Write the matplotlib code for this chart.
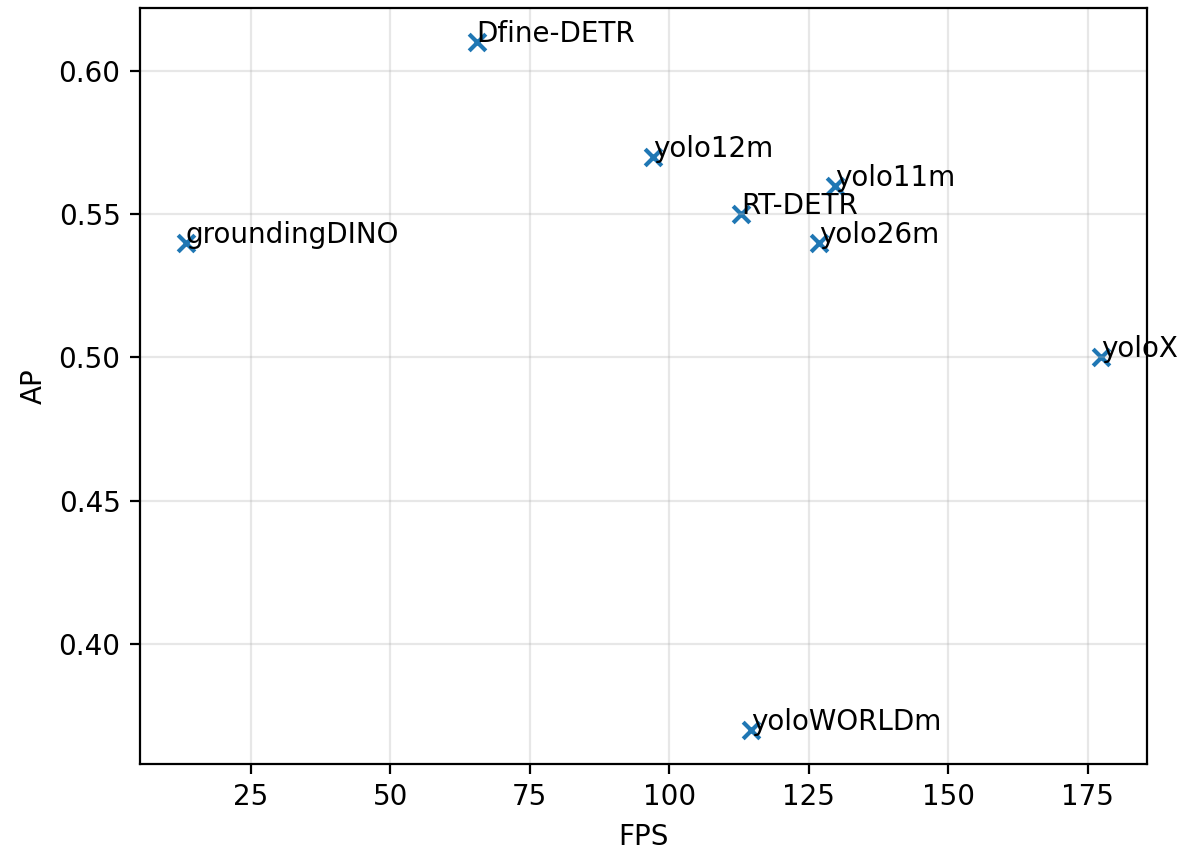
import matplotlib
matplotlib.use("Agg")
import matplotlib.pyplot as plt

models = ["groundingDINO", "Dfine-DETR", "yolo12m", "RT-DETR", "yolo11m", "yolo26m", "yoloX", "yoloWORLDm"]
fps = [13.4, 65.5, 97.1, 112.9, 129.7, 126.8, 177.4, 114.7]
ap = [0.54, 0.61, 0.57, 0.55, 0.56, 0.54, 0.50, 0.37]

DPI = 200
fig = plt.figure(figsize=(1183 / DPI, 850 / DPI), dpi=DPI)
ax = fig.add_axes([140 / 1183, 1 - 764 / 850, (1147 - 140) / 1183, (764 - 8) / 850])
ax.scatter(fps, ap, marker="x")
for name, x, y in zip(models, fps, ap):
    ax.text(x, y, name)
ax.set_xlabel("FPS")
ax.set_ylabel("AP")
ax.grid(True, alpha=0.3)
fig.savefig("out.png", dpi=DPI)
